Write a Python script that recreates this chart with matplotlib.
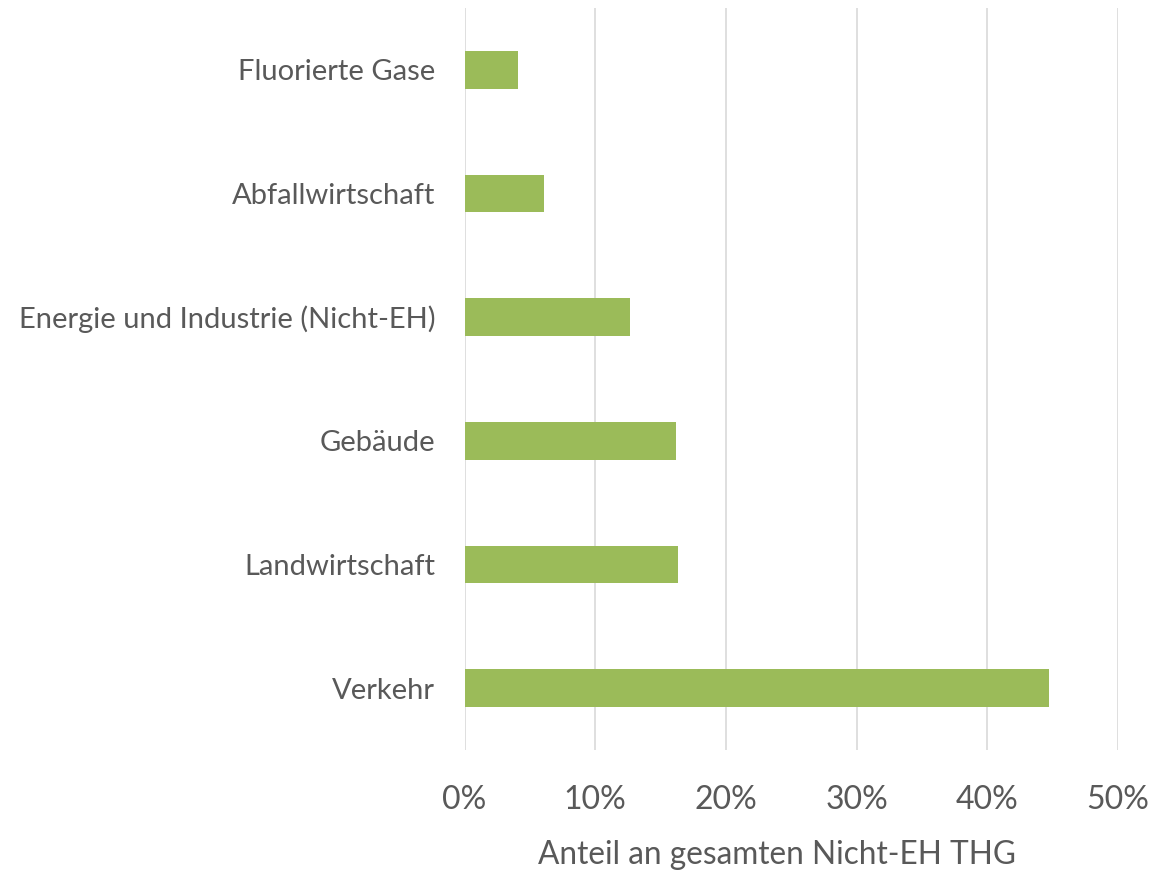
import matplotlib.pyplot as plt
from matplotlib.ticker import FuncFormatter

# Anteil an gesamten Nicht-EH THG (%)
sectors = ['Verkehr', 'Landwirtschaft', 'Gebäude', 'Energie und Industrie (Nicht-EH)',
           'Abfallwirtschaft', 'Fluorierte Gase']
shares = [44.7, 16.3, 16.2, 12.7, 6.1, 4.1]
ticks = [0, 10, 20, 30, 40, 50]

plt.rcParams['font.family'] = ['Lato', 'DejaVu Sans']
grey = '#595959'

fig = plt.figure(figsize=(11.66, 8.72), dpi=100)
ax = fig.add_axes([464.5 / 1166, 1 - 750 / 872, (1118 - 464.5) / 1166, (750 - 8) / 872])

ax.barh(range(len(sectors)), shares, height=0.306, color='#9BBB59', zorder=3)

ax.set_xlim(0, 50)
ax.set_ylim(-0.5, len(sectors) - 0.5)
ax.set_xticks(ticks)
ax.xaxis.set_major_formatter(FuncFormatter(lambda v, p: '%d%%' % v))
ax.set_yticks(range(len(sectors)))
ax.set_yticklabels(sectors)
ax.grid(axis='x', color='#DCDCDC', linewidth=1.3, zorder=0)

for s in ax.spines.values():
    s.set_visible(False)
ax.tick_params(axis='both', length=0, colors=grey)
ax.tick_params(axis='x', labelsize=23, pad=25)
ax.tick_params(axis='y', labelsize=21, pad=21)

fig.text(777 / 1166, 1 - 855 / 872, 'Anteil an gesamten Nicht-EH THG', ha='center', va='center',
         fontsize=22.8, color=grey)

fig.savefig('out.png', dpi=100)
